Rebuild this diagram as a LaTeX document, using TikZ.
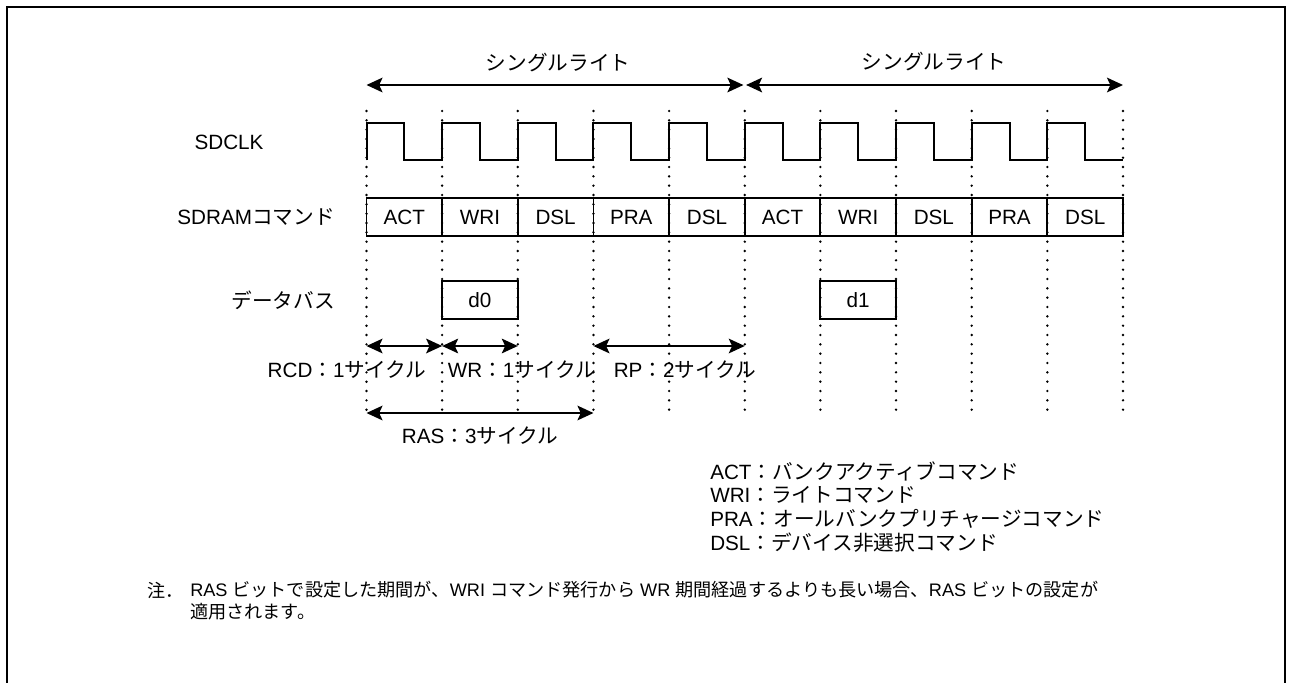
\documentclass[tikz,border=0pt]{standalone}
\usepackage{fontspec}
\setmainfont{Liberation Sans}
\newfontfamily\jp{Noto Sans CJK JP}
\usetikzlibrary{arrows.meta}
\begin{document}
\begin{tikzpicture}[x=0.75pt,y=-0.75pt,
  every node/.style={font=\fontsize{15.5}{18}\selectfont, inner sep=0pt},
  notefont/.style={font=\fontsize{13.6}{16}\selectfont},
  frameline/.style={line width=2pt},
  gridline/.style={line width=2pt, dash pattern=on 0pt off 7pt, line cap=round},
  clk/.style={line width=1.5pt, line join=miter},
  cmdbox/.style={draw, line width=1.4pt, minimum width=56.74pt, minimum height=28.5pt},
  dim/.style={line width=1.4pt, {Stealth[length=12pt,width=11pt,inset=2.5pt]}-{Stealth[length=12pt,width=11pt,inset=2.5pt]}},
  lbl/.style={anchor=center},
  leg/.style={anchor=west}]
\useasboundingbox (0,0) rectangle (1292,682);
% frame
\draw[frameline] (7,700) -- (7,7) -- (1285,7) -- (1285,700);
% grid coordinates
\foreach \i in {0,...,10} {
  \pgfmathsetmacro{\gx}{366.5+75.65*\i}
  \coordinate (g\i) at (\gx,111);
  \coordinate (h\i) at (\gx,410);
  \coordinate (s\i) at (\gx,85);
  \coordinate (t\i) at (\gx,346);
  \coordinate (r\i) at (\gx,413);
}
% dotted grid lines
\foreach \i in {0,...,10} { \draw[gridline] (g\i) -- (h\i); }
% clock
\draw[clk] (366.5,160.3)
  \foreach \i [evaluate=\i as \xa using 366.5+75.65*\i,
               evaluate=\i as \xm using 366.5+75.65*\i+37.8,
               evaluate=\i as \xb using 366.5+75.65*(\i+1)] in {0,...,9}
  { -- (\xa,122.7) -- (\xm,122.7) -- (\xm,160.3) -- (\xb,160.3) };
% top arrows
\draw[dim, shorten >=1pt] (s0) -- (s5);
\draw[dim, shorten <=1pt] (s5) -- (s10);
\node[lbl] (sw1) at (558,63) {\jp シングルライト};
\node[lbl] (sw2) at (934,62) {\jp シングルライト};
% row labels
\node[lbl] (lclk) at (229,142) {SDCLK};
\node[anchor=east] (lcmd) at (335,217) {SDRAM{\jp コマンド}};
\node[anchor=east] (ldat) at (335,300) {\jp データバス};
% command boxes
\foreach \i/\lab in {0/ACT,1/WRI,2/DSL,3/PRA,4/DSL,5/ACT,6/WRI,7/DSL,8/PRA,9/DSL} {
  \node[cmdbox] (c\i) at ({366.5+75.65*(\i+0.5)},217) {\lab};
}
% data boxes
\node[cmdbox] (d0) at ({366.5+75.65*1.5},300) {d0};
\node[cmdbox] (d1) at ({366.5+75.65*6.5},300) {d1};
% timing arrows
\draw[dim] (t0) -- (t1);
\draw[dim] (t1) -- (t2);
\draw[dim] (t3) -- (t5);
\node[lbl] (lrcd) at (347,370) {RCD{\jp ：}1{\jp サイクル}};
\node[lbl] (lwr) at (522,370) {WR{\jp ：}1{\jp サイクル}};
\node[lbl] (lrp) at (685,370) {RP{\jp ：}2{\jp サイクル}};
\draw[dim] (r0) -- (r3);
\node[lbl] (lras) at (480,436) {RAS{\jp ：}3{\jp サイクル}};
% legend
\node[leg] (l1) at (710,471) {ACT{\jp ：バンクアクティブコマンド}};
\node[leg] (l2) at (710,495) {WRI{\jp ：ライトコマンド}};
\node[leg] (l3) at (710,519) {PRA{\jp ：オールバンクプリチャージコマンド}};
\node[leg] (l4) at (710,543) {DSL{\jp ：デバイス非選択コマンド}};
% note
\node[leg, notefont] (n0) at (147,590) {\jp 注．};
\node[leg, notefont] (n1) at (190,590) {RAS {\jp ビットで設定した期間が、}WRI {\jp コマンド発行から} WR {\jp 期間経過するよりも長い場合、}RAS {\jp ビットの設定が}};
\node[leg, notefont] (n2) at (190,612) {\jp 適用されます。};
\end{tikzpicture}
\end{document}
